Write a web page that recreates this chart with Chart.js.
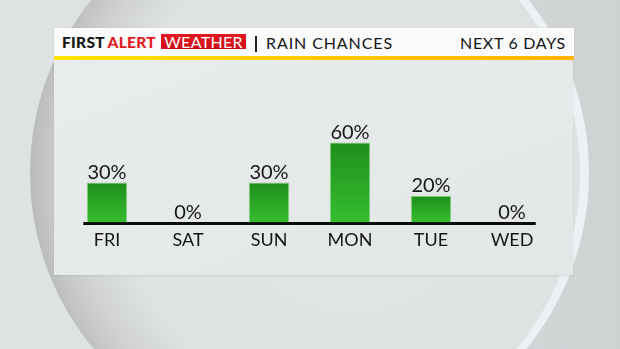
<!DOCTYPE html>
<html><head><meta charset="utf-8">
<script src="https://cdn.jsdelivr.net/npm/chart.js@4"></script>
<style>
html,body{margin:0;padding:0;width:620px;height:349px;overflow:hidden;}
body{position:relative;background:linear-gradient(90deg,#dfe3e4 0%,#dadddf 50%,#cfd2d3 100%);font-family:Lato,sans-serif;}
#ring{position:absolute;left:33px;top:-105px;width:556px;height:556px;border-radius:50%;background:#ecf1f3;}
#disc{position:absolute;left:30px;top:-102px;width:550px;height:550px;border-radius:50%;
 background:radial-gradient(circle 320px at 58% 50%, #e3e6e7 0px, #dfe2e3 235px, #d0d2d3 280px, #c4c6c7 303px, #b9babb 320px);}
#panel{position:absolute;left:54px;top:60px;width:519px;height:215px;background:linear-gradient(160deg,#e9ecec 0%,#e6e9ea 60%,#e3e6e7 100%);box-shadow:0 1px 2px rgba(0,0,0,0.08);}
#head{position:absolute;left:54px;top:28px;width:520px;height:28px;background:#fbfbfb;box-shadow:0 0 2px rgba(0,0,0,0.08);}
#yellow{position:absolute;left:54px;top:56px;width:520px;height:4px;background:linear-gradient(90deg,#ffe400 0%,#ffc400 60%,#ffb300 100%);}
.t{position:absolute;white-space:nowrap;color:#151515;}
#first{left:62px;top:32px;font-size:15.5px;line-height:20px;font-weight:900;letter-spacing:0.3px;}
#first .r{color:#e21b22;margin-left:-1px;}
#wx{position:absolute;left:161px;top:34px;width:85px;height:15px;background:linear-gradient(180deg,#e5161f,#cc111a);}
#wxt{left:161px;top:33px;width:85px;text-align:center;color:#fff;font-size:16px;line-height:17px;letter-spacing:0.3px;}
#sep{position:absolute;left:255px;top:36px;width:2px;height:16px;background:#222;}
#rain{left:266px;top:33px;font-size:16px;line-height:20px;letter-spacing:0.9px;}
#next{left:460px;top:33px;font-size:16px;line-height:20px;letter-spacing:0.7px;}
canvas{position:absolute;left:0;top:0;}
</style></head>
<body>
<div id="ring"></div>
<div id="disc"></div>
<div id="panel"></div>
<div id="head"></div>
<div id="yellow"></div>
<div class="t" id="first">FIRST <span class="r">ALERT</span></div>
<div id="wx"></div>
<div class="t" id="wxt">WEATHER</div>
<div id="sep"></div>
<div class="t" id="rain">RAIN CHANCES</div>
<div class="t" id="next">NEXT 6 DAYS</div>
<canvas id="c" width="620" height="349"></canvas>
<script>
const days = ["FRI","SAT","SUN","MON","TUE","WED"];
const rainChance = [30, 0, 30, 60, 20, 0];
const valueLabels = ["30%","0%","30%","60%","20%","0%"];

const overlay = {
  id: 'overlay',
  beforeDatasetsDraw(chart){
    const x = chart.scales.x, y = chart.scales.y, ctx = chart.ctx;
    const step = x.getPixelForValue(1) - x.getPixelForValue(0);
    const x0 = x.getPixelForValue(0) - step*0.293;
    const x1 = x.getPixelForValue(days.length-1) + step*0.293;
    ctx.save();
    ctx.fillStyle = '#0b0b0b';
    ctx.fillRect(x0, y.getPixelForValue(0) - 0.5, x1 - x0, 3);
    ctx.restore();
  },
  afterDatasetsDraw(chart){
    const x = chart.scales.x, y = chart.scales.y, ctx = chart.ctx;
    ctx.save();
    ctx.fillStyle = '#151515';
    ctx.textAlign = 'center';
    ctx.textBaseline = 'alphabetic';
    ctx.font = '20px Lato';
    rainChance.forEach((v,i)=>{
      ctx.fillText(valueLabels[i], x.getPixelForValue(i), y.getPixelForValue(v) - 4);
    });
    ctx.font = '18px Lato';
    days.forEach((d,i)=>{
      ctx.fillText(d, x.getPixelForValue(i), y.getPixelForValue(0) + 23.5);
    });
    ctx.restore();
  }
};

new Chart(document.getElementById('c'), {
  type: 'bar',
  data: {
    labels: days,
    datasets: [{
      data: rainChance,
      backgroundColor: (ctx) => {
        const chart = ctx.chart;
        const ys = chart.scales.y;
        if (!ys || !ctx.parsed) return '#2aa626';
        const top = ys.getPixelForValue(ctx.parsed.y);
        const bot = ys.getPixelForValue(0);
        if (!isFinite(top) || !isFinite(bot) || bot - top < 1) return '#2aa626';
        const g = chart.ctx.createLinearGradient(0, top, 0, bot);
        g.addColorStop(0, '#1f8f1b');
        g.addColorStop(1, '#36bd30');
        return g;
      },
      borderColor: 'rgba(90,205,80,0.7)',
      borderWidth: {top:1,left:1,right:1,bottom:0},
      borderSkipped: 'bottom',
      barPercentage: 0.5,
      categoryPercentage: 1.0
    }]
  },
  options: {
    responsive: false,
    animation: false,
    events: [],
    layout: { padding: { left: 66.5, right: 67.5, top: 89.2, bottom: 126.5 } },
    plugins: { legend: {display:false}, tooltip: {enabled:false} },
    scales: {
      x: { display: false },
      y: { display: false, min: 0, max: 100 }
    }
  },
  plugins: [overlay]
});
</script>
</body></html>
